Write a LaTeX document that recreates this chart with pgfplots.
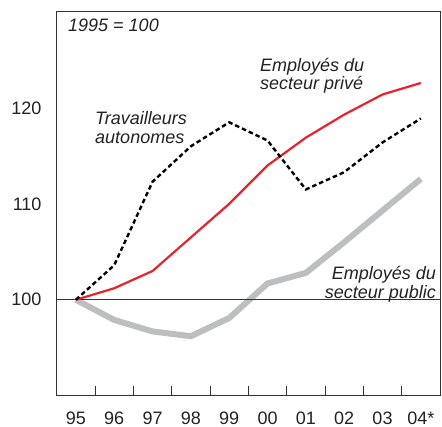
\documentclass[border=0pt]{standalone}
\usepackage{pgfplots}
\pgfplotsset{compat=1.18}
\usepackage{fontspec}
\setmainfont{Liberation Sans}
\definecolor{myred}{HTML}{E8232B}
\definecolor{mygray}{HTML}{BDBEC0}
\definecolor{axgray}{HTML}{333333}
\definecolor{txt}{HTML}{222222}
\begin{document}
\begin{tikzpicture}
\useasboundingbox (-56.7bp,-31.3bp) rectangle (385.3bp,395.7bp);
\begin{axis}[
  at={(0,0)}, anchor=south west,
  scale only axis, width=383.3bp, height=383.7bp,
  xmin=-0.5, xmax=9.5, ymin=90, ymax=130,
  xtick={-0.5,0.5,1.5,2.5,3.5,4.5,5.5,6.5,7.5,8.5,9.5},
  x tick label as interval,
  xticklabels={95,96,97,98,99,00,01,02,03,04*},
  xtick pos=bottom,
  ytick={100,110,120},
  minor ytick={95,100,105,110,115,120,125},
  ytick pos=both, yticklabel pos=left,
  ytick style={draw=none},
  minor y tick style={axgray, line width=0.8bp},
  x tick style={axgray, line width=0.8bp},
  major tick length=10bp, minor tick length=5bp,
  tick align=inside,
  axis line style={axgray, line width=1bp},
  /pgf/number format/assume math mode=true,
  tick label style={font=\fontsize{18bp}{20bp}\selectfont, text=txt},
  yticklabel style={xshift=-11.7bp},
  xticklabel style={inner sep=0pt, yshift=-15.8bp},
  clip=false,
]
\addplot[mygray, line width=6bp] coordinates {(0,100)(1,97.9)(2,96.7)(3,96.2)(4,98.1)(5,101.7)(6,102.8)(7,106.0)(8,109.3)(9,112.6)};
\addplot[axgray, line width=1bp] coordinates {(-0.5,100)(9.5,100)};
\addplot[myred, line width=2.2bp] coordinates {(0,100)(1,101.2)(2,103.0)(3,106.5)(4,110.0)(5,114.0)(6,116.9)(7,119.3)(8,121.4)(9,122.6)};
\addplot[black, line width=2.4bp, dash pattern=on 4.5bp off 3bp] coordinates {(0,100)(1,103.6)(2,112.3)(3,116.0)(4,118.5)(5,116.6)(6,111.5)(7,113.3)(8,116.4)(9,118.9)};
\begin{scope}[every node/.style={font=\fontsize{18bp}{20bp}\selectfont\itshape, text=txt, inner sep=0pt}]
\node[anchor=base west] at (axis cs:-0.205,127.93) {1995 = 100};
\node[anchor=base west] at (axis cs:0.50,118.23) {Travailleurs};
\node[anchor=base west] at (axis cs:0.50,116.32) {autonomes};
\node[anchor=base west] at (axis cs:4.80,123.79) {Employés du};
\node[anchor=base west] at (axis cs:4.80,121.88) {secteur privé};
\node[anchor=base east] at (axis cs:9.40,102.14) {Employés du};
\node[anchor=base east] at (axis cs:9.40,100.16) {secteur public};
\end{scope}
\end{axis}
\end{tikzpicture}
\end{document}
